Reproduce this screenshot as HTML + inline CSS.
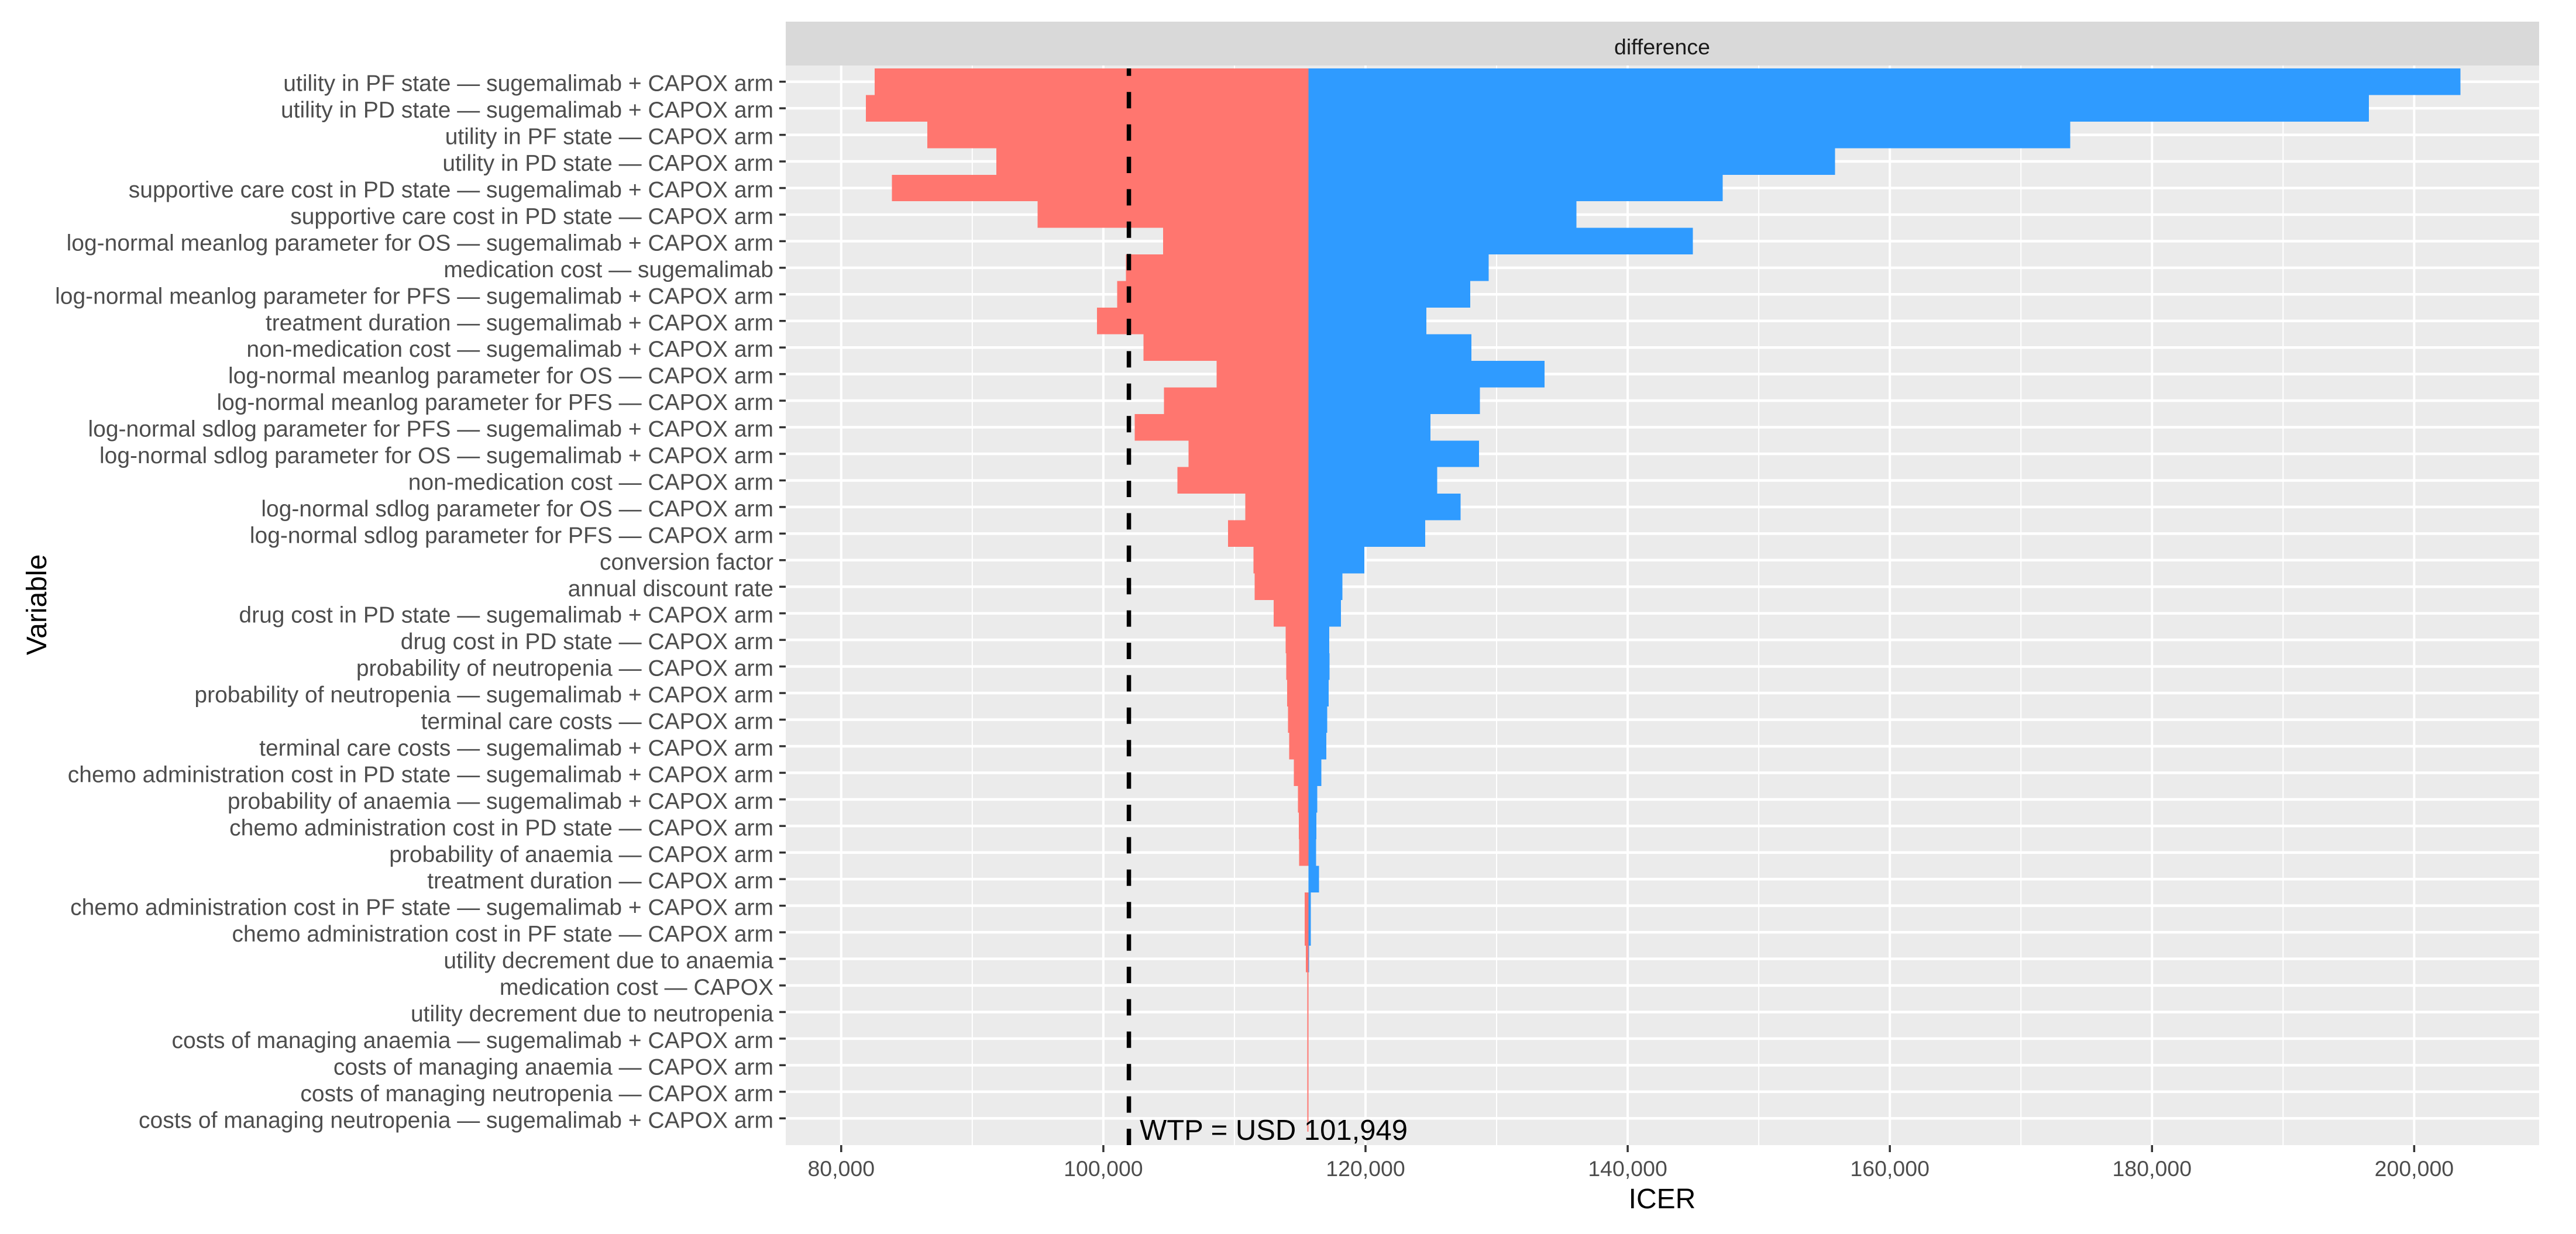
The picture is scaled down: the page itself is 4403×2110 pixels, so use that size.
<!DOCTYPE html>
<html lang="en">
<head>
<meta charset="utf-8">
<title>Tornado diagram of ICER</title>
<style>
  html, body { margin: 0; padding: 0; background: #ffffff; }
  svg { display: block; font-family: "Liberation Sans", Arial, sans-serif; }
</style>
</head>
<body>
<svg id="chart" xmlns="http://www.w3.org/2000/svg" width="4403" height="2110" viewBox="0 0 4403 2110"></svg>
<script>
const categories = [
  "utility in PF state — sugemalimab + CAPOX arm",
  "utility in PD state — sugemalimab + CAPOX arm",
  "utility in PF state — CAPOX arm",
  "utility in PD state — CAPOX arm",
  "supportive care cost in PD state — sugemalimab + CAPOX arm",
  "supportive care cost in PD state — CAPOX arm",
  "log-normal meanlog parameter for OS — sugemalimab + CAPOX arm",
  "medication cost — sugemalimab",
  "log-normal meanlog parameter for PFS — sugemalimab + CAPOX arm",
  "treatment duration — sugemalimab + CAPOX arm",
  "non-medication cost — sugemalimab + CAPOX arm",
  "log-normal meanlog parameter for OS — CAPOX arm",
  "log-normal meanlog parameter for PFS — CAPOX arm",
  "log-normal sdlog parameter for PFS — sugemalimab + CAPOX arm",
  "log-normal sdlog parameter for OS — sugemalimab + CAPOX arm",
  "non-medication cost — CAPOX arm",
  "log-normal sdlog parameter for OS — CAPOX arm",
  "log-normal sdlog parameter for PFS — CAPOX arm",
  "conversion factor",
  "annual discount rate",
  "drug cost in PD state — sugemalimab + CAPOX arm",
  "drug cost in PD state — CAPOX arm",
  "probability of neutropenia — CAPOX arm",
  "probability of neutropenia — sugemalimab + CAPOX arm",
  "terminal care costs — CAPOX arm",
  "terminal care costs — sugemalimab + CAPOX arm",
  "chemo administration cost in PD state — sugemalimab + CAPOX arm",
  "probability of anaemia — sugemalimab + CAPOX arm",
  "chemo administration cost in PD state — CAPOX arm",
  "probability of anaemia — CAPOX arm",
  "treatment duration — CAPOX arm",
  "chemo administration cost in PF state — sugemalimab + CAPOX arm",
  "chemo administration cost in PF state — CAPOX arm",
  "utility decrement due to anaemia",
  "medication cost — CAPOX",
  "utility decrement due to neutropenia",
  "costs of managing anaemia — sugemalimab + CAPOX arm",
  "costs of managing anaemia — CAPOX arm",
  "costs of managing neutropenia — CAPOX arm",
  "costs of managing neutropenia — sugemalimab + CAPOX arm"
];
const lowValues = [
  82560, 81880, 86570, 91830, 83880, 94980, 104550, 101730, 101050, 99510,
  103060, 108650, 104630, 102400, 106500, 105650, 110830, 109520, 111460, 111540,
  113000, 113900, 113950, 114020, 114090, 114180, 114540, 114840, 114910, 114930,
  115640, 115360, 115360, 115450, 115550, 115550, 115550, 115550, 115550, 115550
];
const highValues = [
  203530, 196550, 173760, 155820, 147240, 136100, 144970, 129400, 128000, 124640,
  128080, 133660, 128730, 124950, 128650, 125460, 127250, 124550, 119910, 118240,
  118130, 117230, 117250, 117180, 117070, 117000, 116620, 116320, 116250, 116230,
  116450, 115820, 115820, 115700, 115640, 115640, 115640, 115640, 115640, 115640
];
const baseValue = 115640;
const wtpValue = 101949;
const wtpLabel = "WTP = USD 101,949";
const majorTicks = [80000, 100000, 120000, 140000, 160000, 180000, 200000];
const majorTickLabels = ["80,000", "100,000", "120,000", "140,000", "160,000", "180,000", "200,000"];
const minorTicks = [90000, 110000, 130000, 150000, 170000, 190000];

const NS = "http://www.w3.org/2000/svg";
const svg = document.getElementById("chart");
const panel = { left: 1343, right: 4340, top: 112, bottom: 1958 };
const rowStep = 45.45;
const firstRowY = 139.7;
function xScale(v) { return 1437.8 + (v - 80000) * 0.022405; }
function yScale(i) { return firstRowY + i * rowStep; }
function make(tag, attrs, text) {
  const el = document.createElementNS(NS, tag);
  for (const k in attrs) el.setAttribute(k, attrs[k]);
  if (text !== undefined) el.textContent = text;
  svg.appendChild(el);
  return el;
}
function slug(s) {
  return s.toLowerCase().replace(/[^a-z0-9]+/g, "-").replace(/^-|-$/g, "");
}

let el;
el = make("rect", { x: panel.left, y: 37, width: panel.right - panel.left, height: panel.top - 37, fill: "#d9d9d9" });


el = make("text", { x: 2841, y: 93, "text-anchor": "middle", "font-size": 37.5, fill: "#1a1a1a" }, "difference");


el = make("rect", { x: panel.left, y: panel.top, width: panel.right - panel.left, height: panel.bottom - panel.top, fill: "#ebebeb" });



minorTicks.forEach(function (v) {
  const g = make("line", { x1: xScale(v), x2: xScale(v), y1: panel.top, y2: panel.bottom, stroke: "#ffffff", "stroke-width": 2 });
  
  
});
majorTicks.forEach(function (v) {
  const g = make("line", { x1: xScale(v), x2: xScale(v), y1: panel.top, y2: panel.bottom, stroke: "#ffffff", "stroke-width": 4 });
  
  
});
categories.forEach(function (c, i) {
  const g = make("line", { x1: panel.left, x2: panel.right, y1: yScale(i), y2: yScale(i), stroke: "#ffffff", "stroke-width": 4.5 });
  
  
});

categories.forEach(function (c, i) {
  const top = yScale(i) - rowStep / 2;
  const hi = make("rect", { x: xScale(baseValue), y: top, width: Math.max(0, xScale(highValues[i]) - xScale(baseValue)), height: rowStep, fill: "#2f9bff", "shape-rendering": "crispEdges" });
  
  
  const lo = make("rect", { x: xScale(lowValues[i]), y: top, width: Math.max(0, xScale(baseValue) - xScale(lowValues[i])), height: rowStep, fill: "#ff766f", "shape-rendering": "crispEdges" });
  
  
});

el = make("line", { x1: xScale(wtpValue), x2: xScale(wtpValue), y1: panel.bottom, y2: 117, stroke: "#000000", "stroke-width": 7.5, "stroke-dasharray": "28 27.4" });


el = make("text", { x: 1948, y: 1949, "font-size": 49, fill: "#000000" }, wtpLabel);



categories.forEach(function (c, i) {
  const t = make("line", { x1: 1332, x2: panel.left, y1: yScale(i), y2: yScale(i), stroke: "#333333", "stroke-width": 3.5 });
  
  
  const l = make("text", { x: 1322, y: yScale(i) + 16, "text-anchor": "end", "font-size": 39, fill: "#4d4d4d" }, c);
  
  
});
majorTicks.forEach(function (v, i) {
  const t = make("line", { x1: xScale(v), x2: xScale(v), y1: panel.bottom, y2: panel.bottom + 12, stroke: "#333333", "stroke-width": 3.5 });
  
  
  const l = make("text", { x: xScale(v), y: 2011, "text-anchor": "middle", "font-size": 37.5, fill: "#4d4d4d" }, majorTickLabels[i]);
  
  
});

el = make("text", { x: 2841, y: 2066, "text-anchor": "middle", "font-size": 48, fill: "#000000" }, "ICER");


el = make("text", { x: 0, y: 0, "text-anchor": "middle", "font-size": 48, fill: "#000000", transform: "translate(79 1034) rotate(-90)" }, "Variable");


</script>
</body>
</html>
